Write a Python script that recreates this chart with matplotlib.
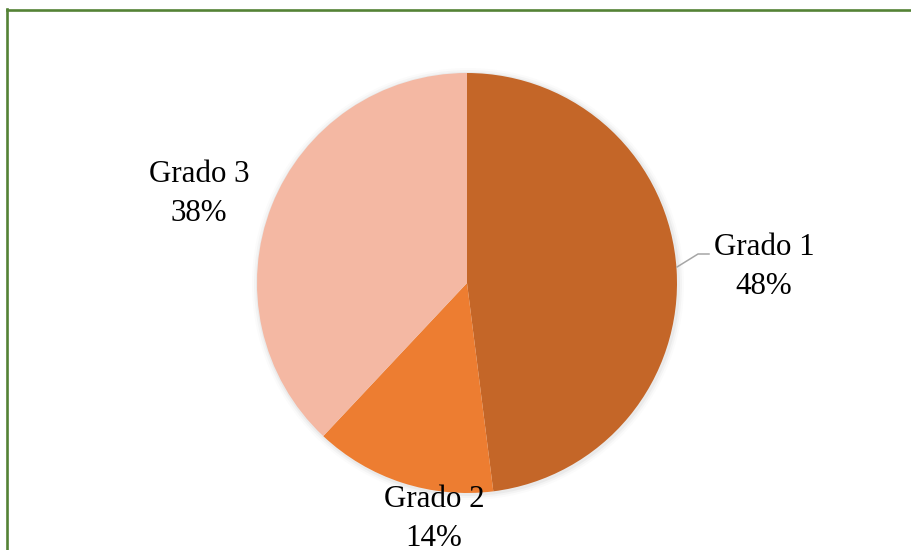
import matplotlib
matplotlib.use("Agg")
import matplotlib.pyplot as plt
from matplotlib.patches import Circle
from matplotlib.lines import Line2D

categories = ["Grado 1", "Grado 2", "Grado 3"]
values = [48, 14, 38]
pct_labels = ["48%", "14%", "38%"]
colors = ["#C46628", "#ED7D31", "#F4B8A3"]

W, H = 912, 550
fig = plt.figure(figsize=(W / 100, H / 100), dpi=100)
ax = fig.add_axes([0, 0, 1, 1])

cx, cy, r = 467, H - 283, 210

# soft shadow
for k, a in [(6, 0.03), (4, 0.05), (2, 0.08)]:
    ax.add_patch(Circle((cx + 1, cy - 1), r + k, color="#808080", alpha=a, lw=0, zorder=0))

ax.pie(values, colors=colors, startangle=90, counterclock=False,
       center=(cx, cy), radius=r, wedgeprops=dict(linewidth=0), frame=False)
ax.set_xlim(0, W)
ax.set_ylim(0, H)
ax.set_aspect("equal")
ax.axis("off")

font = dict(family="Liberation Serif", size=22.3, color="#000000", ha="center", va="baseline")
label_pos = {"Grado 1": (764, 255), "Grado 2": (434, 507), "Grado 3": (199, 182)}
for cat, pct in zip(categories, pct_labels):
    x, yb = label_pos[cat]
    ax.text(x, H - yb, cat, **font)
    ax.text(x, H - (yb + 39), pct, **font)

# leader line for Grado 1
ax.plot([677, 698, 709], [H - 267, H - 254, H - 254], color="#A6A6A6", lw=1.1, zorder=5)

# green frame
fig.add_artist(Line2D([7 / W, 1], [1 - 9.5 / H, 1 - 9.5 / H], transform=fig.transFigure,
                      color="#548235", lw=1.9))
fig.add_artist(Line2D([7.5 / W, 7.5 / W], [0, 1 - 8.5 / H], transform=fig.transFigure,
                      color="#548235", lw=1.9))

fig.savefig("out.png", dpi=100)
